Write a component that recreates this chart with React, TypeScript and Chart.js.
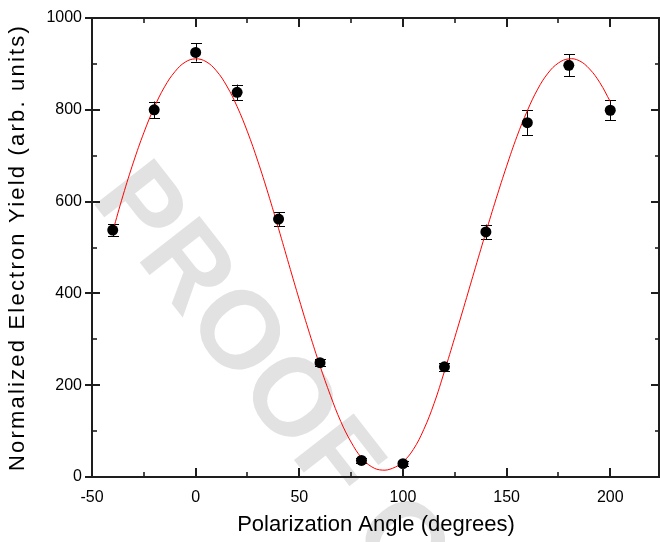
import React, { useEffect, useRef } from "react";
import { Chart, registerables } from "chart.js";

Chart.register(...registerables);

// ---- data ----
const pointAngles = [-40, -20, 0, 20, 40, 60, 80, 100, 120, 140, 160, 180, 200];
const pointYields = [538, 800, 925, 838, 562, 249, 36, 29, 240, 534, 772, 897, 799];
const pointErrors = [13, 18, 20, 17, 15, 8, 6, 6, 8, 16, 27, 24, 22];

const fitAngles = [
  -40, -35, -30, -25, -20, -15, -10, -5, 0, 5, 10, 15, 20, 25, 30, 35, 40, 45, 50, 55, 60, 65, 70, 75, 80, 85, 90,
  95, 100, 105, 110, 115, 120, 125, 130, 135, 140, 145, 150, 155, 160, 165, 170, 175, 180, 185, 190, 195, 200,
];
const fitYields = [
  535, 614, 686, 750, 805, 850, 883, 904, 911, 905, 885, 852, 807, 752, 688, 617, 541, 463, 386, 312, 242, 178, 121, 76, 42, 22, 15,
  19, 33, 60, 103, 160, 230, 304, 380, 457, 533, 607, 677, 742, 798, 845, 880, 902, 911, 907, 889, 859, 818,
];

const xTickValues = [-50, 0, 50, 100, 150, 200];
const xMinorValues = [-25, 25, 75, 125, 175];
const yTickValues = [0, 200, 400, 600, 800, 1000];
const yMinorValues = [100, 300, 500, 700, 900];

const xTitle = "Polarization Angle (degrees)";
const yTitle = "Normalized Electron Yield (arb. units)";
const watermarkText = "PROOF COPY";

const FONT = '"Liberation Sans", Arial, Helvetica, sans-serif';

const stretchPlugin = {
  id: "stretch",
  afterLayout(chart: any) {
    const ca = chart.chartArea;
    const x = chart.scales.x;
    ca.right = chart.width;
    ca.width = ca.right - ca.left;
    x.right = chart.width;
    x.width = x.right - x.left;
    x.configure();
  },
};

const watermarkPlugin = {
  id: "watermark",
  beforeDraw(chart: any) {
    const ctx = chart.ctx;
    ctx.save();
    ctx.translate(90, 199);
    ctx.rotate((52 * Math.PI) / 180);
    ctx.font = `bold 110px ${FONT}`;
    ctx.fillStyle = "rgb(226,226,226)";
    ctx.textBaseline = "alphabetic";
    ctx.textAlign = "left";
    ctx.fillText(watermarkText, 0, 0);
    ctx.restore();
  },
};

const errorBarPlugin = {
  id: "errorBars",
  beforeDatasetsDraw(chart: any) {
    const { ctx, scales } = chart;
    const xs = scales.x;
    const ys = scales.y;
    ctx.save();
    ctx.strokeStyle = "#000";
    ctx.lineWidth = 1;
    const cap = 5.5;
    pointAngles.forEach((a, i) => {
      const px = Math.round(xs.getPixelForValue(a)) + 0.5;
      const yt = ys.getPixelForValue(pointYields[i] + pointErrors[i]);
      const yb = ys.getPixelForValue(pointYields[i] - pointErrors[i]);
      ctx.beginPath();
      ctx.moveTo(px, yt);
      ctx.lineTo(px, yb);
      ctx.moveTo(px - cap, Math.round(yt) + 0.5);
      ctx.lineTo(px + cap, Math.round(yt) + 0.5);
      ctx.moveTo(px - cap, Math.round(yb) + 0.5);
      ctx.lineTo(px + cap, Math.round(yb) + 0.5);
      ctx.stroke();
    });
    ctx.restore();
  },
};

const framePlugin = {
  id: "frame",
  afterDraw(chart: any) {
    const { ctx, chartArea, scales } = chart;
    const { left, top, bottom } = chartArea;
    const right = chartArea.right - 1;
    const xs = scales.x;
    const ys = scales.y;
    ctx.save();
    ctx.strokeStyle = "#1e1e1e";
    ctx.lineWidth = 2;
    ctx.beginPath();
    ctx.rect(left, top, right - left, bottom - top);
    ctx.stroke();

    const line = (x1: number, y1: number, x2: number, y2: number) => {
      ctx.beginPath();
      ctx.moveTo(x1, y1);
      ctx.lineTo(x2, y2);
      ctx.stroke();
    };
    xTickValues.forEach((v) => {
      const px = Math.round(xs.getPixelForValue(v));
      line(px, bottom, px, bottom - 9);
      line(px, top, px, top + 9);
    });
    ctx.lineWidth = 1.6;
    xMinorValues.forEach((v) => {
      const px = Math.round(xs.getPixelForValue(v));
      line(px, bottom, px, bottom - 5);
      line(px, top, px, top + 5);
    });
    ctx.lineWidth = 2;
    yTickValues.forEach((v) => {
      const py = Math.round(ys.getPixelForValue(v));
      line(left - 7, py, left + 8, py);
      line(right, py, right - 8, py);
    });
    ctx.lineWidth = 1.6;
    yMinorValues.forEach((v) => {
      const py = Math.round(ys.getPixelForValue(v));
      line(left, py, left + 5, py);
      line(right, py, right - 4, py);
    });
    ctx.restore();
  },
};

export default function App() {
  const canvasRef = useRef<HTMLCanvasElement | null>(null);

  useEffect(() => {
    const canvas = canvasRef.current;
    if (!canvas) return;
    const chart = new Chart(canvas, {
      type: "scatter",
      data: {
        datasets: [
          {
            label: "data",
            data: pointAngles.map((a, i) => ({ x: a, y: pointYields[i] })),
            showLine: false,
            pointRadius: 5.5,
            pointBackgroundColor: "#000",
            pointBorderColor: "#000",
            pointBorderWidth: 0,
          },
          {
            label: "fit",
            data: fitAngles.map((a, i) => ({ x: a, y: fitYields[i] })),
            showLine: true,
            borderColor: "#ff0000",
            borderWidth: 1,
            pointRadius: 0,
            tension: 0.4,
            fill: false,
          },
        ],
      },
      options: {
        animation: false,
        responsive: false,
        maintainAspectRatio: false,
        devicePixelRatio: 1,
        layout: { padding: { left: 0, right: 0, top: 18, bottom: 0 } },
        plugins: {
          legend: { display: false },
          tooltip: { enabled: false },
        },
        scales: {
          x: {
            type: "linear",
            min: -50,
            max: 224,
            grid: { display: false, drawTicks: false },
            border: { display: false },
            afterBuildTicks: (s: any) => {
              s.ticks = xTickValues.map((v) => ({ value: v }));
            },
            afterFit: (s: any) => {
              s.height = 65;
              s.paddingLeft = 0;
              s.paddingRight = 0;
            },
            ticks: {
              padding: 11,
              color: "#000",
              font: { family: FONT, size: 16 },
              maxRotation: 0,
              autoSkip: false,
              callback: (v: any) => String(v),
            },
            title: {
              display: true,
              text: xTitle,
              color: "#000",
              font: { family: FONT, size: 22 },
              padding: { top: 0, bottom: 4 },
            },
          },
          y: {
            type: "linear",
            min: 0,
            max: 1000,
            grid: { display: false, drawTicks: false },
            border: { display: false },
            afterBuildTicks: (s: any) => {
              s.ticks = yTickValues.map((v) => ({ value: v }));
            },
            afterFit: (s: any) => {
              s.width = 92;
              s.paddingTop = 0;
              s.paddingBottom = 0;
              if (!s.__spaced) {
                const orig = s.drawTitle.bind(s);
                s.drawTitle = (...args: any[]) => {
                  const c = s.ctx;
                  c.save();
                  c.letterSpacing = "2.2px";
                  orig(...args);
                  c.restore();
                };
                s.__spaced = true;
              }
            },
            ticks: {
              padding: 10,
              color: "#000",
              font: { family: FONT, size: 16 },
              autoSkip: false,
              callback: (v: any) => String(v),
            },
            title: {
              display: true,
              text: yTitle,
              color: "#000",
              font: { family: FONT, size: 22 },
              padding: { top: 5, bottom: 0 },
            },
          },
        },
      } as any,
      plugins: [stretchPlugin, watermarkPlugin, errorBarPlugin, framePlugin],
    });
    return () => chart.destroy();
  }, []);

  return (
    <div style={{ position: "absolute", left: 0, top: 0, width: 660, height: 542, background: "#fff" }}>
      <canvas ref={canvasRef} width={660} height={542} style={{ display: "block" }} />
    </div>
  );
}
